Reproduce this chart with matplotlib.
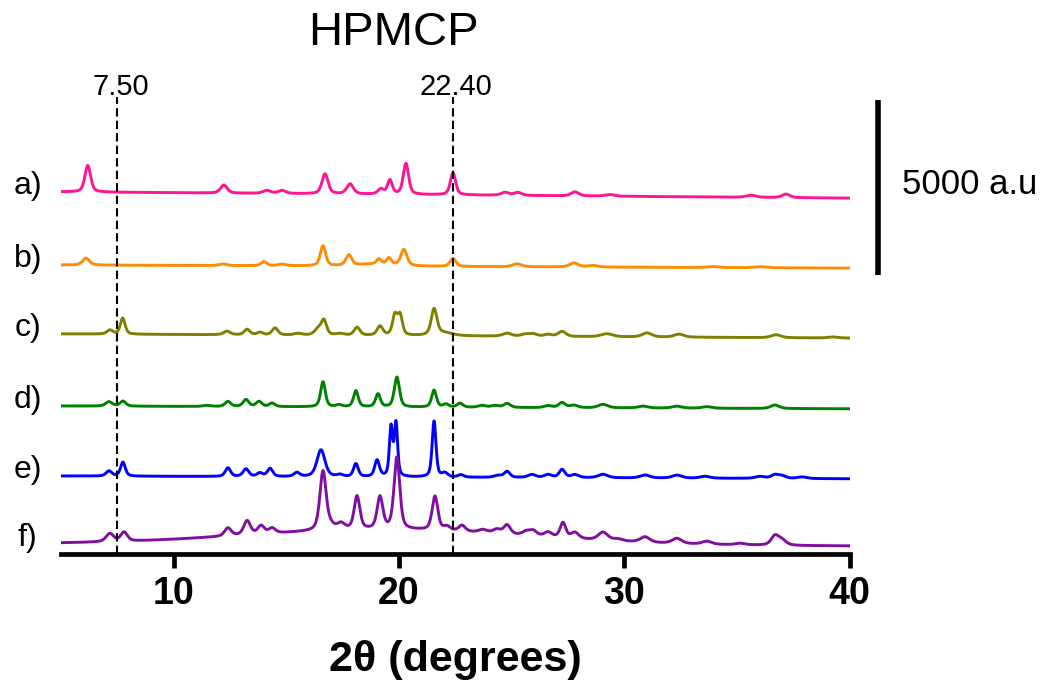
import numpy as np
import matplotlib
matplotlib.use("Agg")
import matplotlib.pyplot as plt
import matplotlib.transforms as mtransforms

plt.rcParams['font.family'] = ['Liberation Sans', 'DejaVu Sans']

# ---- data ----
labels = ["a)", "b)", "c)", "d)", "e)", "f)"]
colors = ["#FF1493", "#FF8C00", "#808000", "#008000", "#0000FF", "#7F0F9F"]
# baseline of each trace at 2theta = 5 and 2theta = 40 (a.u., includes stacking offset)
base_start = [10090, 8000, 6030, 3970, 1970, 30]
base_end = [9910, 7910, 5910, 3890, 1890, -30]

# peaks: (2theta, height a.u., fwhm deg)
peaks_a = [(6.19, 760, 0.30), (12.23, 230, 0.35), (14.14, 85, 0.4), (14.81, 85, 0.4),
           (16.72, 570, 0.32), (17.83, 285, 0.35), (19.2, 145, 0.3), (19.6, 400, 0.25),
           (20.31, 885, 0.28), (22.4, 630, 0.28), (24.71, 85, 0.4), (25.28, 85, 0.4),
           (27.81, 115, 0.4), (29.37, 45, 0.5), (35.63, 60, 0.5), (37.18, 100, 0.4)]
peaks_b = [(6.11, 200, 0.35), (12.19, 45, 0.4), (14.01, 115, 0.3), (14.81, 45, 0.4),
           (16.63, 570, 0.28), (17.78, 300, 0.3), (19.0, 60, 2.0), (19.11, 145, 0.25),
           (19.56, 185, 0.25), (20.22, 460, 0.32), (22.4, 230, 0.3), (25.24, 85, 0.45),
           (27.77, 115, 0.45), (28.61, 45, 0.5), (33.94, 30, 0.6), (36.03, 30, 0.6)]
peaks_c = [(7.17, 115, 0.3), (7.74, 460, 0.25), (12.37, 100, 0.35), (13.26, 155, 0.3),
           (13.83, 70, 0.3), (14.5, 200, 0.3), (15.52, 45, 0.4), (16.41, 170, 0.35),
           (16.67, 415, 0.28), (17.38, 45, 0.4), (18.14, 230, 0.3), (19.16, 260, 0.3),
           (19.82, 560, 0.25), (20.05, 560, 0.25), (21.56, 740, 0.3), (22.0, 85, 0.9),
           (24.8, 85, 0.45), (25.6, 55, 0.4), (25.95, 70, 0.4), (26.62, 55, 0.4),
           (27.24, 145, 0.4), (29.23, 85, 0.6), (31.01, 115, 0.5), (32.43, 85, 0.5),
           (36.74, 85, 0.5), (39.27, 30, 0.5)]
peaks_d = [(7.13, 125, 0.35), (7.75, 145, 0.3), (11.48, 30, 0.4), (12.41, 145, 0.3),
           (13.21, 200, 0.3), (13.79, 145, 0.3), (14.37, 100, 0.3), (16.63, 715, 0.25),
           (17.34, 55, 0.3), (18.09, 460, 0.25), (19.07, 370, 0.25), (19.91, 855, 0.27),
           (21.56, 485, 0.25), (22.09, 85, 0.3), (22.71, 115, 0.3), (23.69, 55, 0.4),
           (24.26, 55, 0.4), (24.8, 115, 0.35), (26.62, 55, 0.4), (27.24, 145, 0.35),
           (27.77, 70, 0.4), (29.06, 100, 0.5), (30.83, 55, 0.5), (32.34, 55, 0.5),
           (33.67, 45, 0.5), (36.69, 100, 0.45)]
peaks_e = [(7.13, 145, 0.3), (7.75, 400, 0.25), (12.41, 245, 0.28), (13.21, 215, 0.3),
           (13.83, 100, 0.3), (14.28, 230, 0.28), (15.47, 115, 0.3), (16.54, 770, 0.42),
           (17.38, 55, 0.3), (18.09, 370, 0.25), (19.03, 470, 0.25), (19.65, 1400, 0.17),
           (19.87, 1515, 0.17), (21.56, 1600, 0.2), (22.04, 115, 0.3), (22.75, 70, 0.3),
           (24.4, 55, 0.4), (24.8, 170, 0.3), (25.9, 85, 0.4), (26.62, 85, 0.4),
           (27.24, 230, 0.3), (27.81, 85, 0.4), (29.06, 100, 0.5), (30.92, 85, 0.5),
           (32.34, 85, 0.5), (33.58, 55, 0.5), (36.03, 55, 0.5), (36.69, 100, 0.4),
           (37.0, 70, 0.4), (37.89, 45, 0.5)]
peaks_f = [(7.17, 230, 0.4), (7.8, 260, 0.35), (12.41, 230, 0.35), (13.26, 400, 0.35),
           (13.88, 230, 0.35), (14.37, 145, 0.35), (16.63, 1685, 0.33), (16.95, 115, 0.4),
           (17.43, 170, 0.4), (18.14, 945, 0.3), (19.16, 915, 0.3), (19.91, 2055, 0.3),
           (21.6, 970, 0.3), (22.13, 115, 0.35), (22.8, 170, 0.35), (23.73, 85, 0.45),
           (24.35, 115, 0.4), (24.8, 260, 0.35), (25.64, 100, 0.4), (25.95, 145, 0.4),
           (26.62, 130, 0.4), (27.28, 430, 0.3), (27.81, 170, 0.4), (29.06, 230, 0.5),
           (29.72, 55, 0.5), (30.92, 155, 0.5), (32.34, 145, 0.5), (33.67, 85, 0.5),
           (35.14, 45, 0.5), (36.69, 260, 0.4), (37.0, 145, 0.45)]
# broad amorphous halo: (centre, height, fwhm)
halos = [None, None, None, None, None, (19.5, 430, 15.0)]

peak_lists = [peaks_a, peaks_b, peaks_c, peaks_d, peaks_e, peaks_f]

ref_lines = [7.50, 22.40]
ref_labels = ["7.50", "22.40"]
scale_bar = 5000  # a.u.


def pattern(tt, start, end, peaks, halo):
    y = start + (end - start) * (tt - tt[0]) / (tt[-1] - tt[0])
    for pos, h, w in peaks:
        g = np.exp(-4 * np.log(2) * ((tt - pos) / w) ** 2)
        lor = 1.0 / (1.0 + 4 * ((tt - pos) / w) ** 2)
        y = y + h * (0.5 * g + 0.5 * lor)
    if halo is not None:
        c, h, w = halo
        y = y + h * np.exp(-4 * np.log(2) * ((tt - c) / w) ** 2)
    return y


fig = plt.figure(figsize=(10.51, 6.83), dpi=100)
ax = fig.add_axes([0.058, 0.189, 0.7503, 0.669])

tt = np.linspace(5, 40, 3501)
for i in range(len(labels)):
    y = pattern(tt, base_start[i], base_end[i], peak_lists[i], halos[i])
    ax.plot(tt, y, color=colors[i], lw=2.1)
    ax.text(-0.042, base_start[i] + 170, labels[i], transform=ax.get_yaxis_transform(),
            ha='center', va='center', fontsize=23, clip_on=False)

for xv, lab in zip(ref_lines, ref_labels):
    ax.axvline(xv, color='black', lw=1.5, linestyle=(0, (4, 2)))
    ax.text(xv + 0.15, 1.005, lab, transform=ax.get_xaxis_transform(), ha='center',
            va='baseline', fontsize=21)

# scale bar
trans = mtransforms.blended_transform_factory(ax.transAxes, ax.transData)
ax.plot([1.036, 1.036], [12714, 12714 - scale_bar], color='black', lw=4,
        transform=trans, clip_on=False, solid_capstyle='butt')
ax.text(1.0666, 10286, "%d a.u" % scale_bar, transform=trans, ha='left',
        va='center', fontsize=25)

ax.set_xlim(5, 40)
ax.set_ylim(-257, 12800)
ax.set_xticks([10, 20, 30, 40])
ax.set_yticks([])
for s in ['left', 'right', 'top']:
    ax.spines[s].set_visible(False)
ax.spines['bottom'].set_linewidth(3.4)
ax.tick_params(axis='x', direction='out', length=10, width=3.4, pad=6,
               labelsize=27)
for lbl in ax.get_xticklabels():
    lbl.set_fontweight('bold')

fig.text(393 / 1051, 1 - 33 / 683, "HPMCP", ha='center', va='center', fontsize=34)
fig.text(455 / 1051, 1 - 660 / 683, "2θ (degrees)", ha='center', va='center',
         fontsize=31, fontweight='bold')

fig.savefig("out.png", dpi=100)
plt.close(fig)
